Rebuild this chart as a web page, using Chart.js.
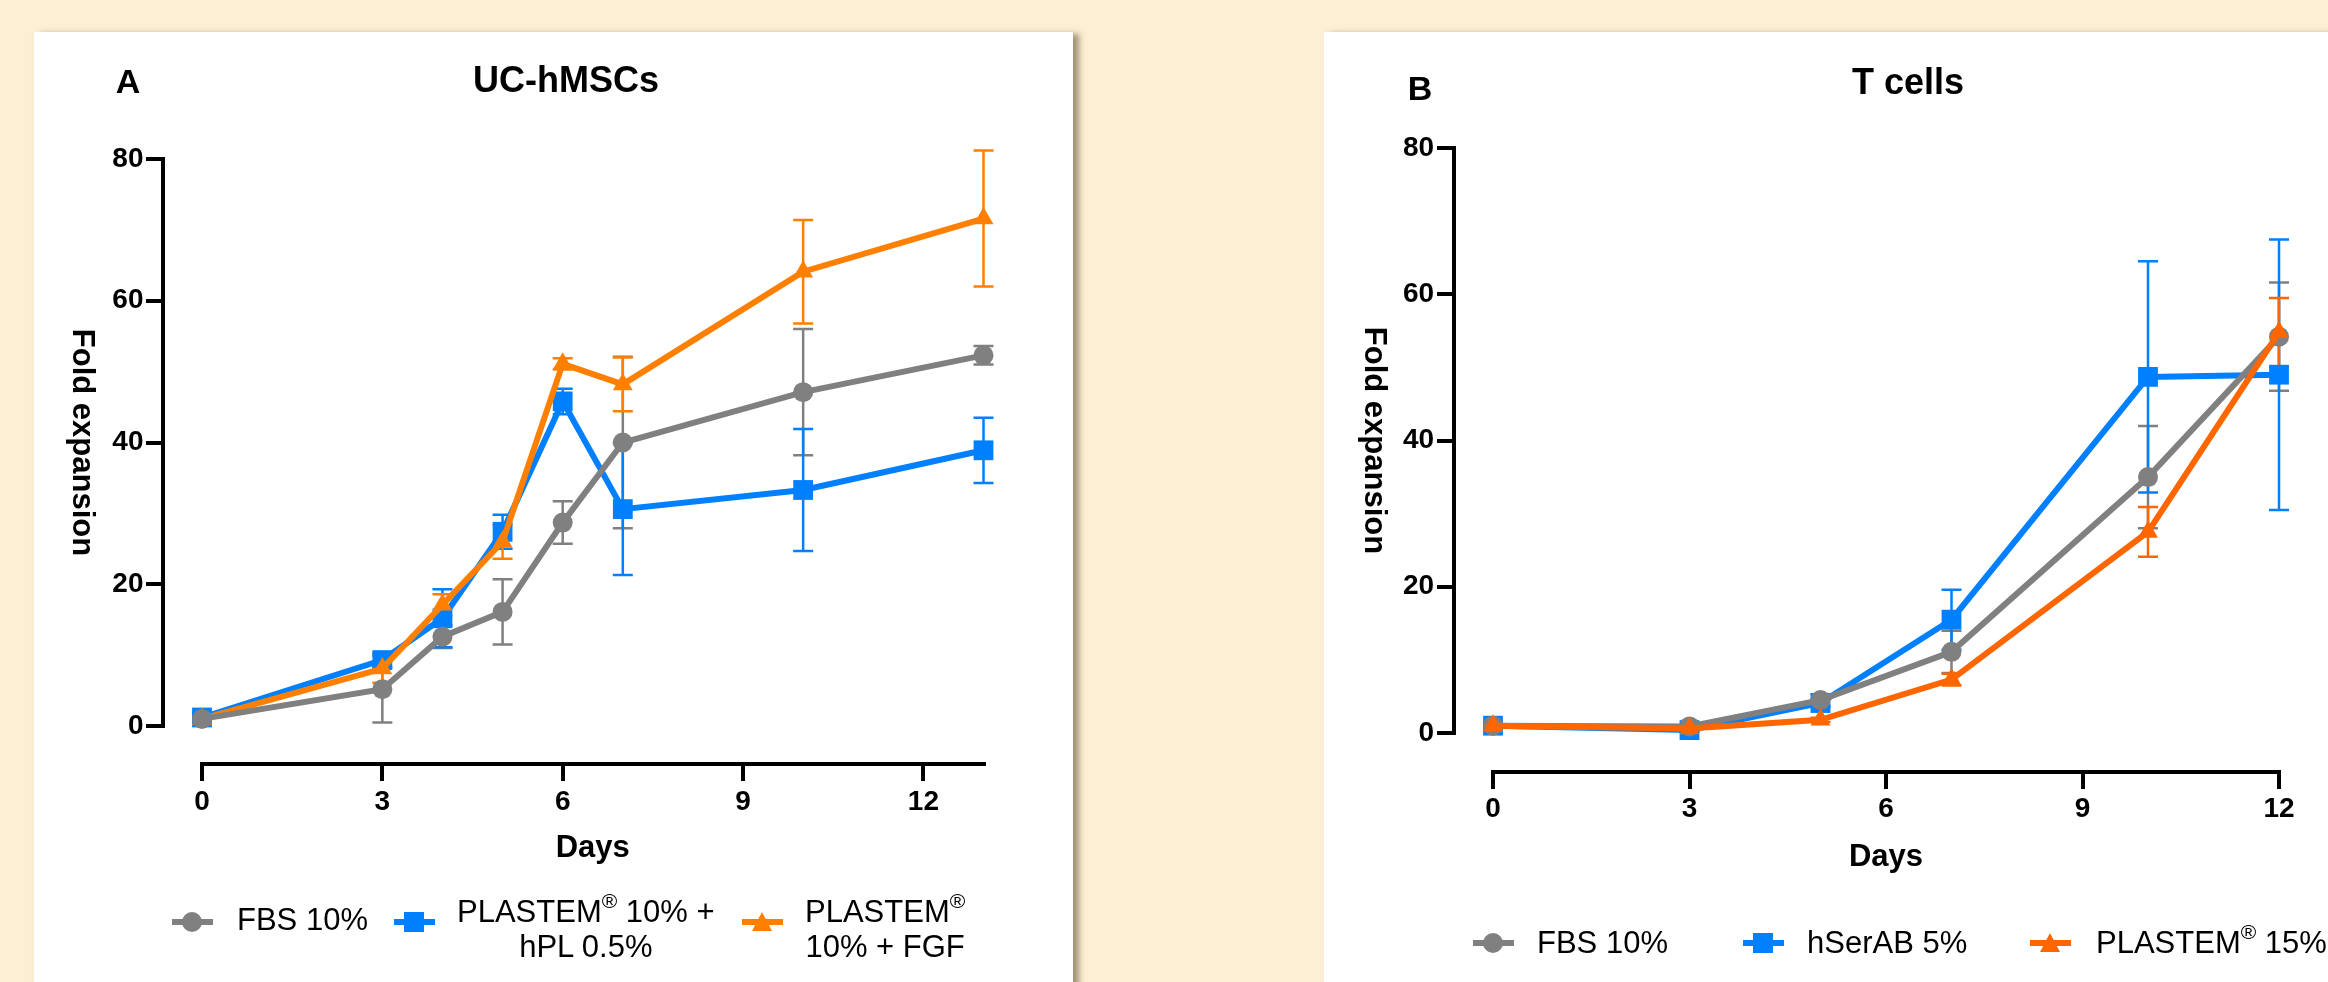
<!DOCTYPE html>
<html>
<head>
<meta charset="utf-8">
<script src="https://cdn.jsdelivr.net/npm/chart.js@4.4.1/dist/chart.umd.min.js"></script>
<style>
  html, body { margin: 0; padding: 0; }
  body { width: 2328px; height: 982px; background: #fdefd4; position: relative; overflow: hidden;
         font-family: "Liberation Sans", Arial, sans-serif; color: #000; }
  .card { position: absolute; top: 32px; height: 1000px; background: #fff; box-shadow: 6px 2px 6px rgba(90, 70, 40, 0.55); }
  canvas { position: absolute; top: 32px; }
  .txt { position: absolute; line-height: 1; transform: translate(-50%, -50%); white-space: nowrap; font-weight: bold; }
  .letter { font-size: 34px; }
  .title { font-size: 36px; }
  .item { position: absolute; font-size: 31px; line-height: 35px; text-align: center; white-space: nowrap; }
  .item sup { font-size: 0.68em; line-height: 0; position: relative; top: -0.15em; }
  .sym { position: absolute; width: 41px; height: 24px; }
  .sym .ln { position: absolute; left: 0; right: 0; top: 9px; height: 6px; }
  .sym .mk { position: absolute; left: 10px; top: 2px; width: 20px; height: 20px; }
  .sym .circle { border-radius: 50%; }
  .sym .tri { top: 2px; height: 19px; clip-path: polygon(50% 0, 100% 100%, 0 100%); }
</style>
</head>
<body>
<div class="card" style="left:34px; width:1039px;"></div>
<div class="card" style="left:1324px; width:1020px;"></div>

<canvas id="chartA" width="1039" height="950" style="left:34px;"></canvas>
<canvas id="chartB" width="1004" height="950" style="left:1324px;"></canvas>

<div class="txt letter" style="left:128px; top:81px;">A</div>
<div class="txt title" style="left:566px; top:80px;">UC-hMSCs</div>
<div class="txt letter" style="left:1420px; top:88px;">B</div>
<div class="txt title" style="left:1908px; top:82px;">T cells</div>

<!-- legend A -->
<div class="sym" style="left:172px; top:910px;"><div class="ln" style="background:#808080"></div><div class="mk circle" style="background:#808080"></div></div>
<div class="item" style="left:237px; top:902px;">FBS 10%</div>
<div class="sym" style="left:394px; top:910px;"><div class="ln" style="background:#0080ff"></div><div class="mk" style="background:#0080ff"></div></div>
<div class="item" style="left:457px; top:894px;">PLASTEM<sup>®</sup> 10% +<br>hPL 0.5%</div>
<div class="sym" style="left:742px; top:910px;"><div class="ln" style="background:#ff8000"></div><div class="mk tri" style="background:#ff8000"></div></div>
<div class="item" style="left:805px; top:894px;">PLASTEM<sup>®</sup><br>10% + FGF</div>

<!-- legend B -->
<div class="sym" style="left:1473px; top:931px;"><div class="ln" style="background:#808080"></div><div class="mk circle" style="background:#808080"></div></div>
<div class="item" style="left:1537px; top:925px;">FBS 10%</div>
<div class="sym" style="left:1743px; top:931px;"><div class="ln" style="background:#0080ff"></div><div class="mk" style="background:#0080ff"></div></div>
<div class="item" style="left:1807px; top:925px;">hSerAB 5%</div>
<div class="sym" style="left:2030px; top:931px;"><div class="ln" style="background:#ff6600"></div><div class="mk tri" style="background:#ff6600"></div></div>
<div class="item" style="left:2096px; top:925px;">PLASTEM<sup>®</sup> 15%</div>

<script>
// Panel A: UC-hMSCs fold expansion (mean and error)
const daysA = [0, 3, 4, 5, 6, 7, 10, 13];
const fbsA = [1.0, 5.2, 12.6, 16.1, 28.7, 40.0, 47.1, 52.3];
const fbsAErr = [0.5, 4.7, 1.6, 4.6, 3.0, 12.1, 8.9, 1.3];
const hplA = [1.2, 9.3, 15.2, 27.4, 45.8, 30.6, 33.3, 38.9];
const hplAErr = [0.5, 1.0, 4.1, 2.4, 1.8, 9.3, 8.6, 4.6];
const fgfA = [1.0, 8.1, 17.1, 26.0, 51.1, 48.2, 64.1, 71.6];
const fgfAErr = [0.3, 2.0, 1.5, 2.4, 0.8, 3.8, 7.3, 9.6];

// Panel B: T cells
const daysB = [0, 3, 5, 7, 10, 12];
const fbsB = [1.0, 0.9, 4.5, 11.1, 35.0, 54.2];
const fbsBErr = [0.2, 0.2, 0.8, 2.9, 7.0, 7.4];
const hserB = [1.0, 0.4, 4.1, 15.5, 48.7, 49.0];
const hserBErr = [0.2, 0.2, 0.6, 4.1, 15.8, 18.5];
const plastemB = [1.0, 0.6, 1.8, 7.3, 27.5, 54.8];
const plastemBErr = [0.2, 0.2, 0.3, 0.8, 3.4, 4.7];

const yTicks = [0, 20, 40, 60, 80];
const xTicks = [0, 3, 6, 9, 12];

Chart.defaults.font.family = "'Liberation Sans', Arial, sans-serif";
Chart.defaults.color = '#000';

// a y axis placed at an x value puts its labels right on the axis line,
// so push them out past the tick marks
class ShiftedLinear extends Chart.LinearScale {
  _computeLabelItems(chartArea) {
    const items = super._computeLabelItems(chartArea);
    const shift = this.options.grid.tickLength + this.options.ticks.padding + 2;
    items.forEach((it) => { it.options.translation[0] -= shift; });
    return items;
  }
}
ShiftedLinear.id = 'shiftedLinear';
ShiftedLinear.defaults = Chart.LinearScale.defaults;
Chart.register(ShiftedLinear);

// error bars drawn under the lines
const errorBars = {
  id: 'errorBars',
  beforeDatasetsDraw(chart) {
    const { ctx, scales: { x, y } } = chart;
    ctx.save();
    ctx.lineWidth = 2.5;
    chart.data.datasets.forEach((ds) => {
      if (!ds.errors) return;
      ctx.strokeStyle = ds.borderColor;
      ds.data.forEach((p, j) => {
        const e = ds.errors[j];
        const px = x.getPixelForValue(p.x);
        const top = y.getPixelForValue(p.y + e);
        const bot = y.getPixelForValue(p.y - e);
        ctx.beginPath();
        ctx.moveTo(px, top); ctx.lineTo(px, bot);
        ctx.moveTo(px - 10, top); ctx.lineTo(px + 10, top);
        ctx.moveTo(px - 10, bot); ctx.lineTo(px + 10, bot);
        ctx.stroke();
      });
    });
    ctx.restore();
  }
};

function series(label, days, vals, errs, color, style, radius, order) {
  return {
    label,
    data: days.map((d, i) => ({ x: d, y: vals[i] })),
    errors: errs,
    borderColor: color,
    backgroundColor: color,
    borderWidth: 6,
    pointStyle: style,
    pointRadius: radius,
    pointBorderWidth: 0,
    tension: 0,
    clip: false,
    order
  };
}

function panel(id, datasets, s) {
  const tickFont = { size: 28, weight: 'bold' };
  const axisTitleFont = { size: 31, weight: 'bold' };
  return new Chart(document.getElementById(id), {
    type: 'line',
    data: { datasets },
    options: {
      responsive: false,
      animation: false,
      devicePixelRatio: 1,
      layout: { padding: s.padding },
      plugins: { legend: { display: false }, tooltip: { enabled: false } },
      scales: {
        x: {
          type: 'linear',
          axis: 'x',
          position: { y: s.xAxisAt },
          min: 0,
          max: s.xMax,
          afterBuildTicks: (sc) => { sc.ticks = xTicks.map((v) => ({ value: v })); },
          ticks: { font: tickFont, color: '#000', padding: 6, maxRotation: 0 },
          grid: { drawOnChartArea: false, tickLength: 15, lineWidth: 4, color: '#000' },
          border: { width: 4, color: '#000' },
          title: { display: true, text: 'Days', font: axisTitleFont, color: '#000', padding: { top: 0, bottom: s.xTitlePad } },
          afterFit: (sc) => { sc.height = 120; }
        },
        y: {
          type: 'shiftedLinear',
          axis: 'y',
          position: { x: s.yAxisAt },
          min: 0,
          max: 80,
          afterBuildTicks: (sc) => { sc.ticks = yTicks.map((v) => ({ value: v })); },
          ticks: { font: tickFont, color: '#000', padding: 3 },
          grid: { drawOnChartArea: false, tickLength: 15, lineWidth: 4, color: '#000' },
          border: { width: 4, color: '#000' },
          // object-positioned axes offset their title by padding.bottom
          title: { display: true, text: 'Fold expansion', font: axisTitleFont, color: '#000', padding: { top: 0, bottom: s.yTitlePad } },
          afterFit: (sc) => { sc.width = 110; }
        }
      }
    },
    plugins: [errorBars]
  });
}

const chartA = panel('chartA', [
  series('FBS 10%', daysA, fbsA, fbsAErr, '#808080', 'circle', 10, 0),
  series('PLASTEM® 10% + hPL 0.5%', daysA, hplA, hplAErr, '#0080ff', 'rect', 14, 2),
  series('PLASTEM® 10% + FGF', daysA, fgfA, fgfAErr, '#ff8000', 'triangle', 11.5, 1)
], { padding: { left: 168, right: 89.5, top: 127, bottom: 256 }, xAxisAt: -5.36, yAxisAt: -0.641, xMax: 13, xTitlePad: 17.4, yTitlePad: 9 });

const chartB = panel('chartB', [
  series('FBS 10%', daysB, fbsB, fbsBErr, '#808080', 'circle', 10, 1),
  series('hSerAB 5%', daysB, hserB, hserBErr, '#0080ff', 'rect', 14, 2),
  series('PLASTEM® 15%', daysB, plastemB, plastemBErr, '#ff6600', 'triangle', 11.5, 0)
], { padding: { left: 169, right: 49, top: 116, bottom: 249 }, xAxisAt: -5.33, yAxisAt: -0.595, xMax: 12, xTitlePad: 16.4, yTitlePad: 11.4 });
</script>
</body>
</html>
